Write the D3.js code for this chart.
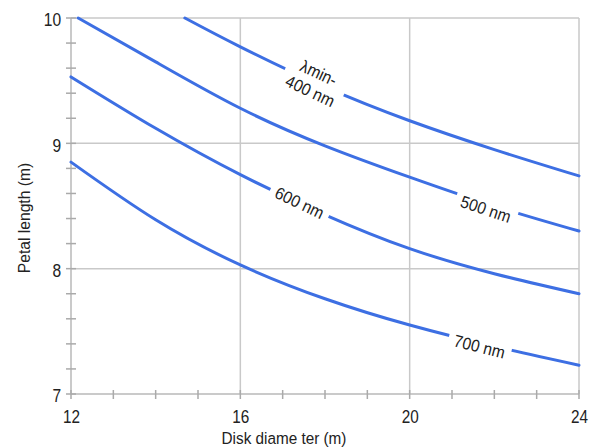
<!DOCTYPE html>
<html>
<head>
<meta charset="utf-8">
<script src="https://cdn.jsdelivr.net/npm/d3@7"></script>
<style>
  body { margin: 0; background: #fff; }
  text { font-family: "Liberation Sans", Arial, sans-serif; fill: #222; }
</style>
</head>
<body>
<svg id="chart" width="595" height="447"></svg>
<script>
// petal length (m) vs disk diameter (m), one curve per minimum wavelength
const d400 = [14.69, 16, 18, 20, 22, 24];
const len400 = [10, 9.77, 9.45, 9.18, 8.95, 8.74];
const d500 = [12.17, 14, 16, 18, 20, 22, 24];
const len500 = [10, 9.65, 9.28, 8.98, 8.73, 8.50, 8.30];
const diameters = [12, 14, 16, 18, 20, 22, 24];
const len600 = [9.53, 9.12, 8.75, 8.43, 8.16, 7.96, 7.80];
const len700 = [8.85, 8.39, 8.03, 7.76, 7.55, 7.38, 7.23];

const curveNames = [["λmin-", "400 nm"], ["500 nm"], ["600 nm"], ["700 nm"]];
const xMajor = [12, 16, 20, 24];
const yMajor = [7, 8, 9, 10];

const series = [
  { xs: d400, ys: len400, name: curveNames[0], at: 17.75, dy: 0 },
  { xs: d500, ys: len500, name: curveNames[1], at: 21.8, dy: 6 },
  { xs: diameters, ys: len600, name: curveNames[2], at: 17.4, dy: 0 },
  { xs: diameters, ys: len700, name: curveNames[3], at: 21.65, dy: 4 }
];

const width = 595, height = 447;
const margin = { top: 18, right: 16, bottom: 53, left: 71 };

const svg = d3.select("#chart");

const x = d3.scaleLinear().domain([12, 24]).range([margin.left, width - margin.right]);
const y = d3.scaleLinear().domain([7, 10]).range([height - margin.bottom, margin.top]);

const gridColor = "#c9c9c9";

// grid
svg.append("g")
  .selectAll("line")
  .data(xMajor.slice(1))
  .join("line")
  .attr("x1", d => x(d)).attr("x2", d => x(d))
  .attr("y1", y(7)).attr("y2", y(10))
  .attr("stroke", gridColor).attr("stroke-width", 1.5);

svg.append("g")
  .selectAll("line")
  .data(yMajor.slice(1))
  .join("line")
  .attr("x1", x(12)).attr("x2", x(24))
  .attr("y1", d => y(d)).attr("y2", d => y(d))
  .attr("stroke", gridColor).attr("stroke-width", 1.5);

// axis lines
svg.append("line")
  .attr("x1", x(12)).attr("x2", x(12)).attr("y1", y(7)).attr("y2", y(10))
  .attr("stroke", "#b8b8b8").attr("stroke-width", 1.5);
svg.append("line")
  .attr("x1", x(12)).attr("x2", x(24)).attr("y1", y(7)).attr("y2", y(7))
  .attr("stroke", "#b8b8b8").attr("stroke-width", 1.5);

// minor tick crosses
svg.append("g")
  .selectAll("line")
  .data(d3.range(7, 10.001, 0.2))
  .join("line")
  .attr("x1", x(12) - 5).attr("x2", x(12) + 5)
  .attr("y1", d => y(d)).attr("y2", d => y(d))
  .attr("stroke", "#aaa").attr("stroke-width", 1.5);

svg.append("g")
  .selectAll("line")
  .data(d3.range(12, 24.001, 1))
  .join("line")
  .attr("x1", d => x(d)).attr("x2", d => x(d))
  .attr("y1", y(7) - 4).attr("y2", y(7) + 5)
  .attr("stroke", "#aaa").attr("stroke-width", 1.5);

// tick labels (slightly condensed like the original face)
const xAxis = svg.append("g")
  .attr("transform", `translate(0,${y(7)})`)
  .call(d3.axisBottom(x).tickValues(xMajor).tickSize(0).tickPadding(16).tickFormat(d3.format("d")));
xAxis.select(".domain").remove();
xAxis.selectAll("text")
  .style("font-size", "18px").style("fill", "#222")
  .attr("transform", "scale(0.85,1)");

const yAxis = svg.append("g")
  .attr("transform", `translate(${x(12)},0)`)
  .call(d3.axisLeft(y).tickValues(yMajor).tickSize(0).tickPadding(12).tickFormat(d3.format("d")));
yAxis.select(".domain").remove();
yAxis.selectAll("text")
  .style("font-size", "19px").style("fill", "#222")
  .attr("dy", "0.42em")
  .attr("transform", "scale(0.82,1)");

// axis titles
svg.append("text")
  .attr("transform", "translate(284,444) scale(0.9,1)")
  .attr("text-anchor", "middle")
  .style("font-size", "17px")
  .text("Disk diame ter (m)");

svg.append("text")
  .attr("transform", "translate(30,218) rotate(-90) scale(0.92,1)")
  .attr("text-anchor", "middle")
  .style("font-size", "17px")
  .text("Petal length (m)");

// curves with gaps under labels (mask)
const defs = svg.append("defs");
const mask = defs.append("mask").attr("id", "gaps")
  .attr("maskUnits", "userSpaceOnUse")
  .attr("x", 0).attr("y", 0).attr("width", width).attr("height", height);
mask.append("rect").attr("width", width).attr("height", height).attr("fill", "#fff");

const line = d3.line().x(d => x(d[0])).y(d => y(d[1])).curve(d3.curveNatural);

const plot = svg.append("g").attr("mask", "url(#gaps)");
const labels = svg.append("g");

series.forEach(s => {
  const pts = s.xs.map((v, i) => [v, s.ys[i]]);
  plot.append("path")
    .attr("d", line(pts))
    .attr("fill", "none")
    .attr("stroke", "#3d6fe3")
    .attr("stroke-width", 3)
    .attr("stroke-linecap", "round");

  const f = d3.scaleLinear().domain(s.xs).range(s.ys);
  const px = x(s.at), py = y(f(s.at));
  const ang = Math.atan2(y(f(s.at + 0.3)) - y(f(s.at - 0.3)), x(s.at + 0.3) - x(s.at - 0.3)) * 180 / Math.PI;
  const tf = `translate(${px},${py + s.dy}) rotate(${ang})`;

  const g = labels.append("g").attr("transform", tf);
  const n = s.name.length;
  s.name.forEach((t, i) => {
    g.append("text")
      .attr("text-anchor", "middle")
      .attr("transform", `translate(0,${(i - (n - 1) / 2) * 20}) scale(0.92,1)`)
      .attr("dy", "0.35em")
      .style("font-size", "17px")
      .text(t);
  });
  const b = g.node().getBBox();
  mask.append("rect")
    .attr("transform", tf)
    .attr("x", b.x - 6).attr("y", b.y - 3)
    .attr("width", b.width + 12).attr("height", b.height + 6)
    .attr("fill", "#000");
});
</script>
</body>
</html>
